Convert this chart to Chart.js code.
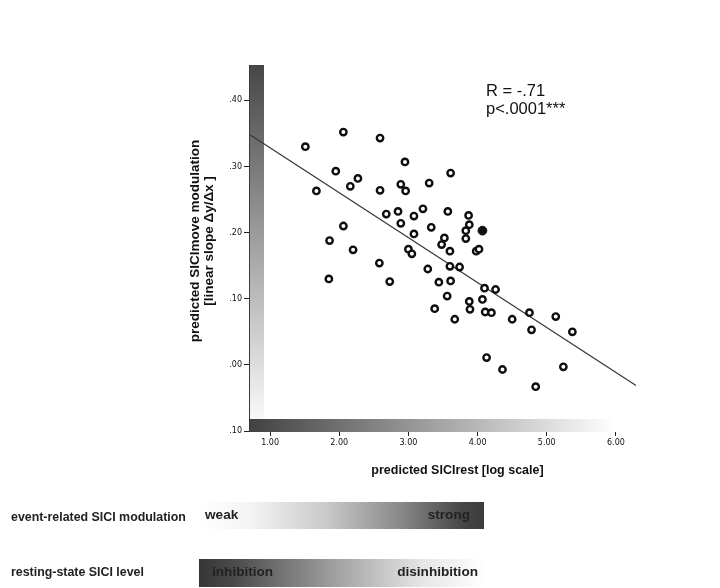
<!DOCTYPE html>
<html lang="en">
<head>
<meta charset="UTF-8">
<title>Predicted SICI modulation vs SICI rest</title>
<style>
    body {
        margin: 0;
        background: #fff;
        font-family: "Liberation Sans", Arial, sans-serif;
    }
    #wrap {
        position: relative;
        width: 720px;
        height: 588px;
        overflow: hidden;
    }
    #chart {
        position: absolute;
        left: 0;
        top: 0;
    }
    .label {
        position: absolute;
        left: 11px;
        font-weight: bold;
        font-size: 12.4px;
        color: #222;
        white-space: nowrap;
    }
    .bar {
        position: absolute;
    }
    .bar span {
        position: absolute;
        font-weight: bold;
        font-size: 13.6px;
        color: #222;
        white-space: nowrap;
    }
</style>
</head>
<body>
<div id="wrap">
    <canvas id="chart" width="720" height="588"></canvas>

    <div class="label" style="top:510px;">event-related SICI modulation</div>
    <div class="bar" style="left:201px; top:502px; width:283px; height:27px;
         background: linear-gradient(to right, #fff 0%, #f3f3f3 18%, #c8c8c8 45%, #8a8a8a 70%, #474747 92%, #3c3c3c 100%);">
        <span style="left:4px; top:5px;">weak</span>
        <span style="right:14px; top:5px;">strong</span>
    </div>

    <div class="label" style="top:565px;">resting-state SICI level</div>
    <div class="bar" style="left:199px; top:559px; width:286px; height:28px;
         background: linear-gradient(to right, #363636 0%, #4a4a4a 12%, #9a9a9a 45%, #e6e6e6 78%, #fff 100%);">
        <span style="left:13px; top:5px;">inhibition</span>
        <span style="right:7px; top:5px;">disinhibition</span>
    </div>
</div>

<script src="https://cdn.jsdelivr.net/npm/chart.js"></script>
<script>
    // predicted SICIrest (x) and predicted SICImove modulation (y)
    var sicirest = [1.51, 2.06, 2.59, 2.95, 1.95, 2.27, 1.67, 2.16, 2.59, 2.89,
                    2.96, 3.30, 3.61, 2.06, 2.68, 2.85, 2.89, 3.08, 3.21, 3.33,
                    3.57, 3.87, 3.88, 3.83, 3.08, 3.52, 3.48, 3.83, 3.60, 3.98,
                    4.02, 1.86, 2.20, 3.00, 3.05, 2.58, 3.28, 3.60, 3.74, 1.85,
                    2.73, 3.44, 3.61, 4.10, 4.26, 3.56, 3.88, 4.07, 3.38, 3.89,
                    4.11, 4.20, 3.67, 4.50, 4.75, 5.13, 4.78, 5.37, 4.13, 4.36,
                    5.24, 4.84];
    var sicimove = [0.330, 0.352, 0.343, 0.307, 0.293, 0.282, 0.263, 0.270, 0.264, 0.273,
                    0.263, 0.275, 0.290, 0.210, 0.228, 0.232, 0.214, 0.225, 0.236, 0.208,
                    0.232, 0.226, 0.212, 0.203, 0.198, 0.192, 0.182, 0.191, 0.172, 0.172,
                    0.175, 0.188, 0.174, 0.175, 0.168, 0.154, 0.145, 0.149, 0.148, 0.130,
                    0.126, 0.125, 0.127, 0.116, 0.114, 0.104, 0.096, 0.099, 0.085, 0.084,
                    0.080, 0.079, 0.069, 0.069, 0.079, 0.073, 0.053, 0.050, 0.011, -0.007,
                    -0.003, -0.033];

    // highlighted (filled) subject
    var markedX = [4.07];
    var markedY = [0.203];

    // regression line end points
    var fitX = [0.71, 6.29];
    var fitY = [0.348, -0.031];

    var xTicks = [1, 2, 3, 4, 5, 6];
    var xTickLabels = ['1.00', '2.00', '3.00', '4.00', '5.00', '6.00'];
    var yTicks = [-0.1, 0, 0.1, 0.2, 0.3, 0.4];
    var yTickLabels = ['.10', '.00', '.10', '.20', '.30', '.40'];

    var statLines = ['R = -.71', 'p<.0001***'];
    var xTitle = 'predicted SICIrest [log scale]';
    var yTitle = ['predicted SICImove modulation', '[linear slope \u0394y/\u0394x ]'];

    function zip(xs, ys) {
        return xs.map(function (x, i) { return { x: x, y: ys[i] }; });
    }

    // gradient bars along the axes, titles and the R / p annotation
    var decor = {
        id: 'decor',
        beforeDatasetsDraw: function (chart) {
            var ctx = chart.ctx;
            var a = chart.chartArea;
            ctx.save();

            var gv = ctx.createLinearGradient(0, a.top, 0, a.bottom);
            gv.addColorStop(0, '#474747');
            gv.addColorStop(1, '#ffffff');
            ctx.fillStyle = gv;
            ctx.fillRect(a.left, a.top - 1, 14, a.bottom - a.top + 2);

            var gh = ctx.createLinearGradient(a.left, 0, a.left + 365, 0);
            gh.addColorStop(0, '#424242');
            gh.addColorStop(1, '#ffffff');
            ctx.fillStyle = gh;
            ctx.fillRect(a.left, a.bottom - 12, 372, 13);

            ctx.strokeStyle = '#3a3a3a';
            ctx.lineWidth = 1;
            ctx.beginPath();
            ctx.moveTo(a.left - 0.5, a.top - 1);
            ctx.lineTo(a.left - 0.5, a.bottom + 1);
            ctx.stroke();
            ctx.restore();
        },
        afterDraw: function (chart) {
            var ctx = chart.ctx;
            ctx.save();
            ctx.fillStyle = '#111';

            // annotation
            ctx.font = '16.5px "Liberation Sans", Arial, sans-serif';
            ctx.textAlign = 'left';
            ctx.textBaseline = 'alphabetic';
            ctx.fillText(statLines[0], 486, 95.5);
            ctx.fillText(statLines[1], 486, 113.5);

            // x title
            ctx.font = 'bold 12.5px "Liberation Sans", Arial, sans-serif';
            ctx.textAlign = 'center';
            ctx.fillText(xTitle, 457.5, 473.5);

            // y title, two lines
            ctx.translate(0, 241);
            ctx.rotate(-Math.PI / 2);
            ctx.font = 'bold 13.5px "Liberation Sans", Arial, sans-serif';
            ctx.fillText(yTitle[0], 0, 199);
            ctx.fillText(yTitle[1], 0, 213);
            ctx.restore();
        }
    };

    var tickFont = { family: '"DejaVu Sans", Verdana, sans-serif', size: 8 };

    var ctx = document.getElementById('chart').getContext('2d');
    var myChart = new Chart(ctx, {
        type: 'scatter',
        data: {
            datasets: [{
                data: zip(markedX, markedY),
                pointRadius: 4.4,
                pointBorderWidth: 1,
                pointBackgroundColor: '#111',
                pointBorderColor: '#111',
                order: 0
            }, {
                data: zip(sicirest, sicimove),
                pointRadius: 3.2,
                pointBorderWidth: 2.4,
                pointBackgroundColor: '#fff',
                pointBorderColor: '#0d0d0d',
                order: 1
            }, {
                type: 'line',
                data: zip(fitX, fitY),
                borderColor: '#3a3a3a',
                borderWidth: 1.2,
                pointRadius: 0,
                fill: false,
                order: 2
            }]
        },
        options: {
            responsive: false,
            animation: false,
            events: [],
            layout: { padding: { left: 0, top: 66, right: 84, bottom: 0 } },
            plugins: {
                legend: { display: false },
                tooltip: { enabled: false }
            },
            scales: {
                x: {
                    type: 'linear',
                    min: 0.71,
                    max: 6.29,
                    afterFit: function (s) { s.height = 157; },
                    afterBuildTicks: function (s) {
                        s.ticks = xTicks.map(function (v) { return { value: v }; });
                    },
                    border: { display: false },
                    grid: { drawOnChartArea: false, drawTicks: true, tickLength: 5, color: '#222' },
                    ticks: {
                        font: tickFont,
                        color: '#111',
                        padding: 2,
                        maxRotation: 0,
                        autoSkip: false,
                        callback: function (v) { return xTickLabels[xTicks.indexOf(v)]; }
                    }
                },
                y: {
                    type: 'linear',
                    min: -0.1,
                    max: 0.452,
                    afterFit: function (s) { s.width = 250; },
                    afterBuildTicks: function (s) {
                        s.ticks = yTicks.map(function (v) { return { value: v }; });
                    },
                    border: { display: false },
                    grid: { drawOnChartArea: false, drawTicks: true, tickLength: 6, color: '#222' },
                    ticks: {
                        font: tickFont,
                        color: '#111',
                        padding: 2,
                        autoSkip: false,
                        callback: function (v) { return yTickLabels[yTicks.indexOf(v)]; }
                    }
                }
            }
        },
        plugins: [decor]
    });
</script>
</body>
</html>
